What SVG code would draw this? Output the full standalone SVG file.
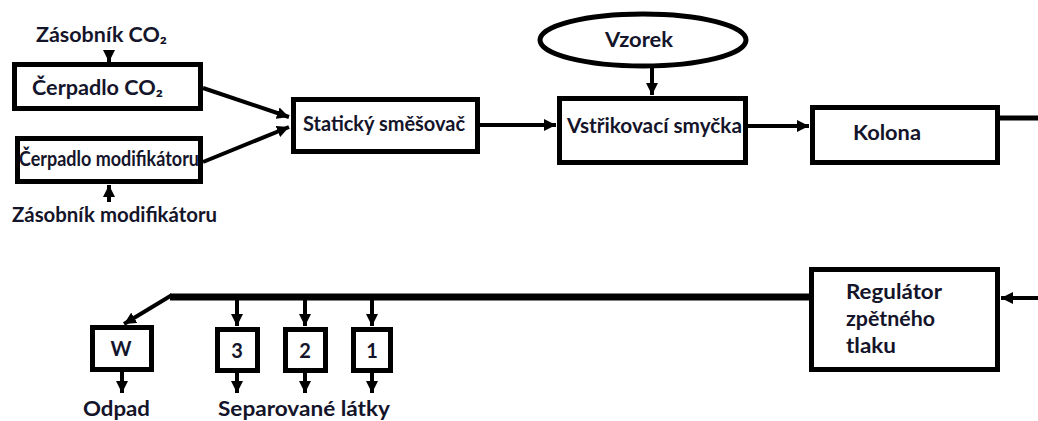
<svg xmlns="http://www.w3.org/2000/svg" width="1038" height="421" viewBox="0 0 1038 421">
<style>
.box{fill:#fff;stroke:#000;stroke-width:5}
.ln{fill:none;stroke:#000;stroke-width:4}
.t{font-family:Lato,"Open Sans",sans-serif;font-weight:bold;font-size:20px;fill:#14142a}
</style>
<defs>
<marker id="ah" markerUnits="userSpaceOnUse" markerWidth="14" markerHeight="12" refX="12" refY="6" orient="auto">
<path d="M0,0 L12,6 L0,12 Z" fill="#000"/>
</marker>
</defs>
<rect width="1038" height="421" fill="#fff"/>
<g id="connectors">
<line class="ln" x1="109" y1="52" x2="109" y2="62" marker-end="url(#ah)"/>
<line class="ln" x1="109" y1="202" x2="109" y2="185" marker-end="url(#ah)"/>
<line class="ln" x1="203" y1="88" x2="289" y2="117" marker-end="url(#ah)"/>
<line class="ln" x1="203" y1="162" x2="289" y2="127" marker-end="url(#ah)"/>
<line class="ln" x1="480" y1="125" x2="556" y2="125" marker-end="url(#ah)"/>
<line class="ln" x1="652" y1="68" x2="652" y2="95" marker-end="url(#ah)"/>
<line class="ln" x1="748" y1="126" x2="809" y2="126" marker-end="url(#ah)"/>
<line x1="1000" y1="118" x2="1038" y2="118" stroke="#000" stroke-width="5"/>
<line class="ln" x1="1038" y1="298" x2="1001" y2="298" marker-end="url(#ah)"/>
<line x1="809" y1="297" x2="170" y2="297" stroke="#000" stroke-width="7"/>
<line class="ln" x1="172" y1="295" x2="124" y2="324" marker-end="url(#ah)"/>
<line class="ln" x1="237" y1="299" x2="237" y2="326" marker-end="url(#ah)"/>
<line class="ln" x1="305" y1="299" x2="305" y2="326" marker-end="url(#ah)"/>
<line class="ln" x1="372" y1="299" x2="372" y2="326" marker-end="url(#ah)"/>
<line class="ln" x1="122" y1="372" x2="122" y2="393" marker-end="url(#ah)"/>
<line class="ln" x1="237" y1="373" x2="237" y2="393" marker-end="url(#ah)"/>
<line class="ln" x1="305" y1="373" x2="305" y2="393" marker-end="url(#ah)"/>
<line class="ln" x1="372" y1="373" x2="372" y2="393" marker-end="url(#ah)"/>
</g>
<g id="zasobnik-co2"><text class="t" x="36" y="42" textLength="131" lengthAdjust="spacingAndGlyphs">Zásobník CO₂</text></g>
<g id="cerpadlo-co2"><rect class="box" x="14.5" y="64.5" width="186" height="44"/><text class="t" x="32" y="95" textLength="131" lengthAdjust="spacingAndGlyphs">Čerpadlo CO₂</text></g>
<g id="cerpadlo-mod"><rect class="box" x="17.5" y="138.5" width="183" height="43"/><text class="t" x="19" y="166" font-size="14" textLength="180" lengthAdjust="spacingAndGlyphs">Čerpadlo modifikátoru</text></g>
<g id="zasobnik-mod"><text class="t" x="12" y="222" textLength="205" lengthAdjust="spacingAndGlyphs">Zásobník modifikátoru</text></g>
<g id="smesovac"><rect class="box" x="293.5" y="99.5" width="184" height="52"/><text class="t" x="303" y="131" textLength="162" lengthAdjust="spacingAndGlyphs">Statický směšovač</text></g>
<g id="vzorek"><ellipse cx="643" cy="40" rx="103" ry="26" fill="#fff" stroke="#000" stroke-width="5"/><text class="t" x="605" y="47" textLength="68" lengthAdjust="spacingAndGlyphs">Vzorek</text></g>
<g id="smycka"><rect class="box" x="559.5" y="98.5" width="186" height="64"/><text class="t" x="567" y="133" textLength="175" lengthAdjust="spacingAndGlyphs">Vstřikovací smyčka</text></g>
<g id="kolona"><rect class="box" x="812.5" y="107.5" width="185" height="55"/><text class="t" x="853" y="140" textLength="68" lengthAdjust="spacingAndGlyphs">Kolona</text></g>
<g id="regulator"><rect class="box" x="811.5" y="269.5" width="186" height="100"/>
<text class="t" x="846" y="299" textLength="96" lengthAdjust="spacingAndGlyphs">Regulátor</text>
<text class="t" x="846" y="326" textLength="89" lengthAdjust="spacingAndGlyphs">zpětného</text>
<text class="t" x="846" y="353" textLength="50" lengthAdjust="spacingAndGlyphs">tlaku</text></g>
<g id="w"><rect class="box" x="92.5" y="327.5" width="59" height="42"/><text class="t" x="121" y="356" text-anchor="middle">W</text></g>
<g id="f3"><rect class="box" x="217.5" y="329.5" width="40" height="41"/><text class="t" x="237" y="358" text-anchor="middle">3</text></g>
<g id="f2"><rect class="box" x="285.5" y="329.5" width="40" height="41"/><text class="t" x="305" y="358" text-anchor="middle">2</text></g>
<g id="f1"><rect class="box" x="353.5" y="329.5" width="37" height="41"/><text class="t" x="372" y="358" text-anchor="middle">1</text></g>
<g id="odpad"><text class="t" x="83" y="416" textLength="67" lengthAdjust="spacingAndGlyphs">Odpad</text></g>
<g id="separovane"><text class="t" x="218" y="416" textLength="172" lengthAdjust="spacingAndGlyphs">Separované látky</text></g>
</svg>
